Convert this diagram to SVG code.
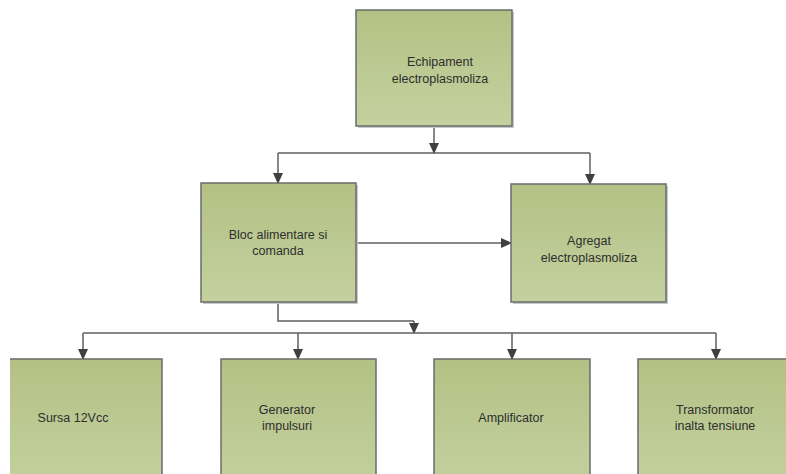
<svg xmlns="http://www.w3.org/2000/svg" width="786" height="474" viewBox="0 0 786 474">
<defs>
<linearGradient id="g" x1="0" y1="0" x2="0" y2="1">
<stop offset="0" stop-color="#b3c185"/>
<stop offset="1" stop-color="#c4d19f"/>
</linearGradient>
<marker id="ah" markerWidth="11" markerHeight="11" refX="10" refY="5.5" orient="auto" markerUnits="userSpaceOnUse">
<path d="M0,0.5 L11,5.5 L0,10.5 Z" fill="#404040"/>
</marker>
</defs>
<style>
.box{fill:url(#g);stroke:#6b6b6b;stroke-width:1.5}
.sh{fill:#c8c8c8}
.t{font-family:"Liberation Sans",Arial,sans-serif;font-size:12.5px;fill:#2e2e2e;text-anchor:middle}
.c{fill:none;stroke:#5f5f5f;stroke-width:1.5}
.a{marker-end:url(#ah)}
</style>
<g id="connectors">
<path class="c a" d="M434,126 V153"/>
<path class="c" d="M278,153 H590"/>
<path class="c a" d="M278,153 V183"/>
<path class="c a" d="M590,153 V184"/>
<path class="c a" d="M356,243 H511"/>
<path class="c" d="M278,302 V321 H414"/>
<path class="c a" d="M414,321 V333"/>
<path class="c" d="M83,333 H716"/>
<path class="c a" d="M83,333 V359"/>
<path class="c a" d="M298,333 V359"/>
<path class="c a" d="M512,333 V359"/>
<path class="c a" d="M716,333 V359"/>
</g>
<g id="n-echipament">
<rect class="sh" x="358" y="12" width="156" height="116"/>
<rect class="box" x="356" y="10" width="156" height="116"/>
<text class="t" x="440" y="66">Echipament</text>
<text class="t" x="440" y="83">electroplasmoliza</text>
</g>
<g id="n-bloc">
<rect class="sh" x="203" y="185" width="155" height="119"/>
<rect class="box" x="201" y="183" width="155" height="119"/>
<text class="t" x="278" y="239">Bloc alimentare si</text>
<text class="t" x="278" y="255">comanda</text>
</g>
<g id="n-agregat">
<rect class="sh" x="513" y="186" width="155" height="118"/>
<rect class="box" x="511" y="184" width="155" height="118"/>
<text class="t" x="589" y="245">Agregat</text>
<text class="t" x="589" y="262">electroplasmoliza</text>
</g>
<g id="n-sursa">
<rect x="10" y="359" width="152" height="130" fill="url(#g)"/>
<path d="M10,359 H162 V489" fill="none" stroke="#6b6b6b" stroke-width="1.5"/>
<text class="t" x="73" y="422">Sursa 12Vcc</text>
</g>
<g id="n-generator">
<rect class="box" x="221" y="359" width="155" height="130"/>
<text class="t" x="287" y="414">Generator</text>
<text class="t" x="287" y="430">impulsuri</text>
</g>
<g id="n-amplificator">
<rect class="box" x="434" y="359" width="156" height="130"/>
<text class="t" x="511" y="422">Amplificator</text>
</g>
<g id="n-transformator">
<rect class="box" x="638" y="359" width="156" height="130"/>
<text class="t" x="715" y="414">Transformator</text>
<text class="t" x="715" y="430">inalta tensiune</text>
</g>
</svg>
